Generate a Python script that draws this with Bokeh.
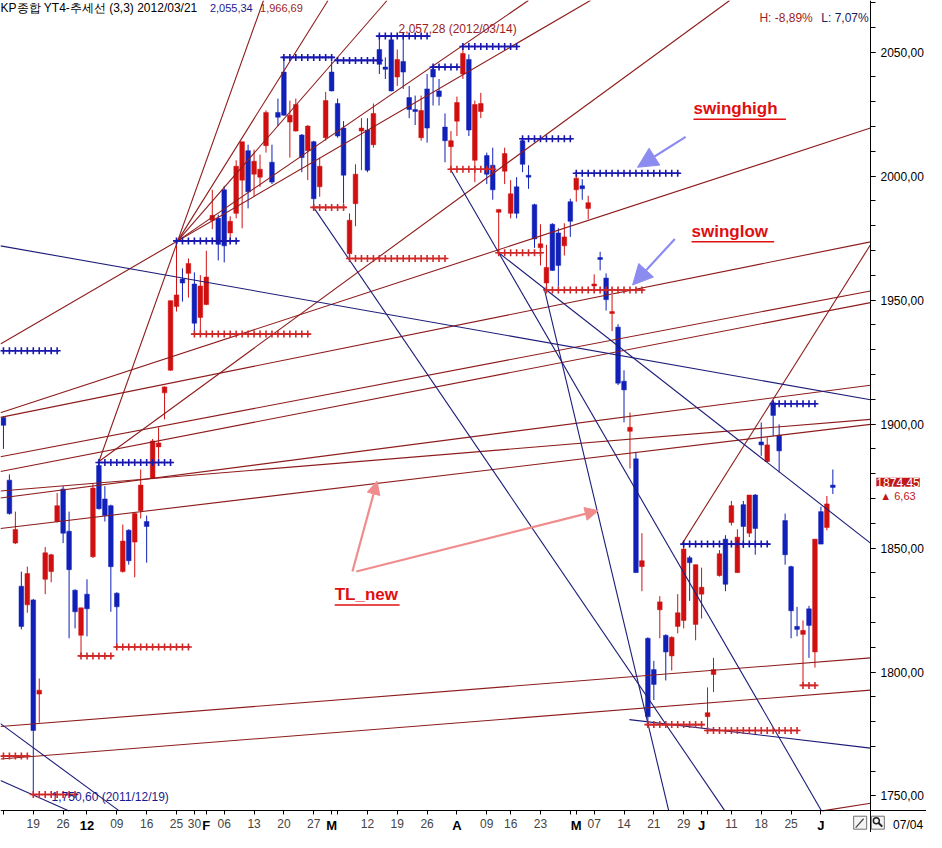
import numpy as np
from bokeh.plotting import figure
from bokeh.models import (Range1d, FixedTicker, CustomJSTickFormatter, Label, LinearAxis,
                          Arrow, NormalHead, ColumnDataSource)
from bokeh.embed import file_html
from bokeh.resources import INLINE

# ---------------- data (daily KOSPI candles, 2011-12-12 .. 2012-07-04, trading-day index) ----------------
opens = [1902.7, 1877.4, 1852.0, 1834.6, 1827.1, 1829.1, 1791.1, 1837.4, 1840.5, 1860.7,
         1873.8, 1856.8, 1833.0, 1814.8, 1831.4, 1846.5, 1883.3, 1869.8, 1867.1, 1831.8,
         1840.5, 1857.2, 1852.4, 1865.1, 1860.7, 1878.1, 1890.8, 1912.6, 1921.7, 1947.4,
         1958.5, 1960.8, 1956.5, 1943.0, 1948.2, 1982.2, 1983.0, 1994.5, 1977.1, 1985.0,
         1998.4, 2010.3, 2000.8, 1999.6, 2012.3, 2005.6, 2025.7, 2042.0, 2021.8, 2018.2,
         2016.6, 2010.3, 2013.9, 1995.7, 2015.5, 2042.0, 2029.3, 2019.4, 1968.7, 1988.9,
         2018.2, 2018.6, 2012.7, 2051.1, 2044.0, 2055.0, 2040.0, 2046.3, 2031.7, 2026.9,
         2015.5, 2035.2, 2043.1, 2034.4, 2019.8, 2011.9, 2022.2, 2041.2, 2047.1, 2006.4,
         2026.1, 2008.3, 2004.4, 1985.4, 2002.0, 1985.0, 1995.7, 2014.3, 2000.4, 1988.5,
         1971.1, 1956.9, 1980.6, 1977.1, 1971.9, 1989.7, 1994.5, 1996.1, 1987.0, 1955.7,
         1967.2, 1958.9, 1944.6, 1939.1, 1917.3, 1897.1, 1886.0, 1842.5, 1813.6, 1801.0,
         1825.1, 1814.8, 1806.5, 1818.4, 1820.8, 1846.1, 1819.2, 1831.4, 1782.0, 1799.0,
         1838.9, 1853.6, 1860.3, 1840.1, 1867.5, 1856.0, 1871.4, 1892.8, 1884.9, 1908.6,
         1895.5, 1861.1, 1842.5, 1818.4, 1815.2, 1825.5, 1808.1, 1864.7, 1858.3, 1875.4]
highs = [1903.1, 1879.7, 1864.7, 1840.5, 1842.5, 1829.5, 1797.4, 1850.4, 1847.7, 1872.2,
         1875.0, 1864.7, 1833.4, 1825.9, 1837.4, 1875.8, 1884.5, 1875.0, 1867.5, 1832.2,
         1859.5, 1857.6, 1864.3, 1881.7, 1863.1, 1894.0, 1898.7, 1915.2, 1949.8, 1973.9,
         1962.8, 1966.8, 1961.2, 1960.1, 1969.9, 1994.5, 1984.5, 1996.1, 1983.8, 2006.4,
         2013.9, 2012.7, 2010.7, 2008.7, 2026.5, 2012.7, 2031.3, 2047.9, 2030.5, 2031.3,
         2017.0, 2020.6, 2014.3, 2007.5, 2034.0, 2046.3, 2031.3, 2022.2, 1985.0, 2004.8,
         2023.4, 2023.4, 2029.3, 2057.3, 2047.9, 2056.6, 2051.1, 2056.2, 2036.4, 2032.5,
         2032.5, 2041.2, 2044.3, 2039.2, 2025.3, 2018.2, 2032.1, 2052.7, 2049.1, 2030.5,
         2033.6, 2009.5, 2011.5, 1986.6, 2011.5, 1998.4, 1999.6, 2015.5, 2004.4, 1988.9,
         1980.6, 1972.3, 1981.0, 1979.0, 1981.0, 1990.9, 2001.6, 1998.8, 1992.1, 1960.4,
         1969.5, 1960.8, 1952.1, 1940.3, 1921.7, 1904.7, 1888.8, 1856.0, 1814.0, 1804.5,
         1830.6, 1815.2, 1814.4, 1831.4, 1852.0, 1846.9, 1843.3, 1842.1, 1793.8, 1805.7,
         1849.2, 1855.2, 1869.0, 1857.6, 1869.0, 1871.4, 1871.8, 1900.7, 1894.7, 1909.4,
         1899.9, 1863.9, 1842.9, 1826.3, 1820.8, 1826.7, 1853.6, 1866.7, 1871.0, 1881.7]
lows = [1890.0, 1863.5, 1851.6, 1817.2, 1823.9, 1750.6, 1779.6, 1831.4, 1836.2, 1860.3,
        1852.0, 1813.6, 1817.6, 1806.9, 1814.4, 1846.0, 1865.5, 1860.7, 1824.3, 1810.5,
        1840.1, 1843.3, 1838.2, 1861.9, 1844.1, 1877.8, 1886.0, 1901.9, 1921.5, 1945.4,
        1949.4, 1951.0, 1937.1, 1937.1, 1948.0, 1978.6, 1966.0, 1965.2, 1973.1, 1983.0,
        1979.0, 1987.0, 1991.7, 1995.7, 2009.5, 1996.8, 2020.2, 2024.4, 2007.5, 2018.0,
        2001.6, 1998.4, 1987.3, 1991.7, 2014.3, 2034.2, 2015.5, 1988.9, 1966.8, 1979.8,
        2002.4, 2001.6, 2011.5, 2041.2, 2039.2, 2034.2, 2036.4, 2035.2, 2023.4, 2020.6,
        2014.3, 2013.5, 2028.5, 2028.5, 2005.6, 2002.4, 2016.2, 2039.2, 2016.2, 1997.6,
        2023.4, 1996.8, 1990.5, 1968.7, 1996.8, 1983.0, 1983.0, 2001.6, 1994.9, 1971.1,
        1964.0, 1954.1, 1961.8, 1955.5, 1968.0, 1975.5, 1989.7, 1990.5, 1982.6, 1954.1,
        1962.0, 1945.8, 1937.5, 1915.7, 1900.7, 1882.1, 1840.1, 1832.6, 1778.8, 1788.7,
        1813.6, 1796.6, 1800.6, 1815.6, 1817.6, 1828.7, 1812.8, 1821.6, 1776.0, 1791.9,
        1838.5, 1832.6, 1859.1, 1840.0, 1850.0, 1854.4, 1847.3, 1887.2, 1884.7, 1895.1,
        1880.5, 1843.3, 1813.6, 1814.4, 1794.6, 1805.7, 1801.8, 1851.6, 1857.2, 1871.8]
closes = [1899.5, 1863.9, 1857.5, 1818.4, 1839.7, 1776.4, 1792.7, 1848.1, 1847.3, 1867.1,
          1856.0, 1841.3, 1824.3, 1825.9, 1825.5, 1874.2, 1865.9, 1863.1, 1842.5, 1826.3,
          1852.8, 1844.9, 1863.9, 1875.4, 1858.7, 1893.2, 1892.4, 1915.0, 1949.8, 1952.1,
          1956.9, 1964.8, 1940.7, 1955.7, 1959.3, 1984.2, 1972.5, 1971.9, 1981.8, 2004.0,
          2013.9, 1993.7, 2006.0, 2002.8, 2025.7, 1997.6, 2023.8, 2024.6, 2024.6, 2028.9,
          2007.5, 2020.2, 1990.9, 2004.0, 2030.5, 2034.4, 2016.2, 2000.4, 1982.2, 2000.8,
          2019.4, 2002.4, 2025.3, 2045.1, 2043.1, 2034.4, 2047.1, 2042.0, 2026.9, 2026.1,
          2026.5, 2019.4, 2040.0, 2032.1, 2014.3, 2014.3, 2029.7, 2049.5, 2018.6, 2028.9,
          2029.3, 2000.8, 1994.5, 1986.6, 2009.1, 1992.9, 1985.0, 2004.8, 1999.6, 1974.7,
          1972.7, 1963.2, 1962.0, 1964.0, 1975.5, 1981.8, 1999.2, 1994.9, 1989.3, 1956.5,
          1966.4, 1950.2, 1945.4, 1916.5, 1913.8, 1898.7, 1840.1, 1844.9, 1782.0, 1795.0,
          1828.3, 1808.1, 1814.0, 1823.9, 1849.6, 1844.1, 1843.3, 1834.2, 1783.6, 1801.0,
          1847.7, 1835.4, 1867.1, 1854.4, 1858.7, 1871.4, 1857.9, 1891.6, 1891.6, 1903.5,
          1889.2, 1847.3, 1824.7, 1817.2, 1816.8, 1818.8, 1853.6, 1851.6, 1867.8, 1874.45]

# x-axis ticks (trading-day index) and their labels; bold = month / year markers
tick_pos = [0, 5, 10, 14, 19, 24, 29, 32, 34, 37, 42, 47, 52, 55, 56, 61, 66, 71, 76,
            81, 85, 90, 95, 96, 99, 104, 109, 114, 117, 118, 122, 127, 132, 137]
tick_txt = ["", "19", "26", "12", "09", "16", "25", "30", "F", "06", "13", "20", "27", "M", "",
            "12", "19", "26", "A", "09", "16", "23", "", "M", "07", "14", "21", "29", "J", "",
            "11", "18", "25", "J"]
tick_bold = [False, False, False, True, False, False, False, False, True, False, False, False, False,
             True, False, False, False, False, True, False, False, False, False, True, False, False,
             False, False, True, False, False, False, False, True]

# swing highs (blue "+" rows): start index, end index, level
sh_start = [0, 16, 29, 47, 56, 63, 72, 77, 87, 96, 114, 129]
sh_end = [9, 28, 39, 55, 63, 71, 76, 86, 95, 113, 128, 136]
sh_level = [1929.6, 1884.5, 1973.9, 2047.9, 2046.7, 2056.5, 2044.0, 2052.3, 2015.1, 2001.2, 1851.6, 1908.2]
# swing lows (red "+" rows)
sl_start = [0, 5, 13, 19, 32, 52, 58, 75, 83, 91, 108, 118, 134]
sl_end = [4, 12, 18, 31, 51, 57, 74, 82, 90, 107, 117, 133, 136]
sl_level = [1766.1, 1750.6, 1806.5, 1810.1, 1936.3, 1987.4, 1966.8, 2002.8, 1969.1, 1954.1, 1778.8, 1776.4, 1794.6]

# trend lines: two anchor points (index, price); 'start' = line begins at first anchor
nv_i1 = [-0.5, -0.5, -0.5, 104.9, 52.1, 75.0, 83.0, 90.6]
nv_p1 = [1779.2, 1756.3, 1971.9, 1780.8, 1987.0, 2002.4, 1969.1, 1954.9]
nv_i2 = [19.4, 11.0, 145.3, 145.3, 120.9, 137.1, 145.3, 111.5]
nv_p2 = [1744.0, 1744.0, 1909.8, 1769.3, 1744.0, 1744.0, 1852.0, 1744.0]
nv_start = [False, False, False, True, True, True, True, True]

rd_i1 = [-0.5, 16.0, -0.5, -0.5, -0.5, -0.5, -0.5, -0.5, -0.5, -0.5, 114.8, 16.0, 29.2, 29.2, 29.2, 29.2, 113.7]
rd_p1 = [1904.6, 1884.9, 1902.7, 1886.8, 1880.9, 1870.2, 1857.9, 1873.0, 1778.0, 1764.9, 1735.3, 1884.9,
         1973.9, 1973.9, 1973.9, 1973.9, 1851.6]
rd_i2 = [145.3, 70.4, 145.3, 145.3, 145.3, 145.3, 145.3, 145.3, 145.3, 145.3, 145.3, 29.2, 54.4, 64.3, 98.4, 88.0, 145.3]
rd_p2 = [2019.4, 1980.6, 1973.5, 1953.7, 1949.0, 1915.7, 1899.9, 1901.9, 1805.7, 1792.7, 1747.1, 1973.9,
         2070.9, 2070.9, 2070.9, 2070.9, 1972.3]
rd_start = [False, True, False, False, False, False, False, False, False, False, False, True,
            True, True, False, True, True]

# ---------------- figure geometry ----------------
W, H = 926, 832            # canvas; the frame covers it entirely
REF_W, REF_H = 942, 848    # reference picture size used for placement


def RX(x):   # reference pixel -> trading-day index
    return (x - 3) / 6.07


def RY(y):   # reference pixel -> price
    return 2070.855 - 0.39573 * y


AX_X = RX(885)     # location of the price axis (index units)
AX_Y = RY(826)     # location of the date axis (price units)
PX0, PY1 = RX(0), RY(0)

RED = "#D01010"
BLUE = "#1020B8"
TLRED = "#8E1C1C"
TLBLUE = "#1C1C78"
FONT = "Liberation Sans"

p = figure(width=W, height=H, x_range=Range1d(RX(0), RX(REF_W)), y_range=Range1d(RY(REF_H), RY(0)),
           output_backend="svg", toolbar_location=None, x_axis_location=None, y_axis_location=None,
           min_border=0, min_border_left=0, min_border_right=0, min_border_top=0, min_border_bottom=0,
           background_fill_color="white", border_fill_color="white")
p.outline_line_color = None
p.xgrid.visible = False
p.ygrid.visible = False

# price axis (right of the candles)
ya = LinearAxis(fixed_location=AX_X,
                ticker=FixedTicker(ticks=list(range(1750, 2051, 50)), minor_ticks=list(range(1750, 2071, 10))),
                formatter=CustomJSTickFormatter(code="return tick.toFixed(2).replace('.', ',');"))
ya.major_tick_in = 0
ya.major_tick_out = 5
ya.minor_tick_in = 0
ya.minor_tick_out = 5
ya.major_label_standoff = 5
ya.major_label_text_font = FONT
ya.major_label_text_font_size = "12px"
ya.major_label_text_color = "black"
ya.axis_line_color = "black"
p.add_layout(ya, "right")

# date axis
xa = LinearAxis(fixed_location=AX_Y, ticker=FixedTicker(ticks=tick_pos, minor_ticks=[]))
xa.major_label_overrides = {t: ("" if b else s) for t, s, b in zip(tick_pos, tick_txt, tick_bold)}
xa.major_tick_in = 0
xa.major_tick_out = 4
xa.minor_tick_out = 0
xa.major_label_standoff = 4
xa.major_label_text_font = FONT
xa.major_label_text_font_size = "12px"
xa.axis_line_color = "black"
p.add_layout(xa, "below")

for t, s, b in zip(tick_pos, tick_txt, tick_bold):
    if b:
        p.add_layout(Label(x=t, y=RY(840.5), text=s, text_align="center", text_baseline="middle",
                           text_font=FONT, text_font_size="13px", text_font_style="bold", text_color="black"))

# ---------------- candles ----------------
o = np.array(opens); h = np.array(highs); l = np.array(lows); c = np.array(closes)
idx = np.arange(len(o))
bot = np.minimum(o, c)
top = np.maximum(np.maximum(o, c), bot + 0.7)
col = [RED if cc >= oo else BLUE for oo, cc in zip(o, c)]
src = ColumnDataSource(dict(x=idx, hi=h, lo=l, top=top, bot=bot, col=col))
p.segment(x0="x", y0="lo", x1="x", y1="hi", line_color="col", line_width=1, source=src)
p.vbar(x="x", top="top", bottom="bot", width=0.78, fill_color="col", line_color="col", line_width=0.5, source=src)


# ---------------- trend lines (clipped to the plotting area) ----------------
def clip(x0, y0, x1, y1, xmin, xmax, ymin, ymax):
    dx, dy = x1 - x0, y1 - y0
    t0, t1 = 0.0, 1.0
    for pp, qq in ((-dx, x0 - xmin), (dx, xmax - x0), (-dy, y0 - ymin), (dy, ymax - y0)):
        if pp == 0:
            if qq < 0:
                return None
        else:
            r = qq / pp
            if pp < 0:
                t0 = max(t0, r)
            else:
                t1 = min(t1, r)
    if t0 > t1:
        return None
    return x0 + t0 * dx, y0 + t0 * dy, x0 + t1 * dx, y0 + t1 * dy


def draw_lines(i1s, p1s, i2s, p2s, starts, color):
    segs = []
    for i1, p1, i2, p2, st in zip(i1s, p1s, i2s, p2s, starts):
        m = (p2 - p1) / (i2 - i1)
        xa_ = i1 if st else -10.0
        xb_ = 200.0
        s = clip(xa_, p1 + m * (xa_ - i1), xb_, p1 + m * (xb_ - i1), PX0, AX_X, AX_Y, PY1)
        if s is not None:
            segs.append(s)
    p.segment(x0=[s[0] for s in segs], y0=[s[1] for s in segs], x1=[s[2] for s in segs],
              y1=[s[3] for s in segs], line_color=color, line_width=1.1)


draw_lines(rd_i1, rd_p1, rd_i2, rd_p2, rd_start, TLRED)
draw_lines(nv_i1, nv_p1, nv_i2, nv_p2, nv_start, TLBLUE)


# ---------------- swing markers ----------------
def swing_rows(starts, ends, levels, color):
    xs, ys = [], []
    for s, e, lv in zip(starts, ends, levels):
        for k in range(s, e + 1):
            xs.append(k); ys.append(lv)
    p.segment(x0=[max(s - 0.3, PX0) for s in starts], y0=levels, x1=[e + 0.3 for e in ends], y1=levels,
              line_color=color, line_width=1.6)
    p.scatter(xs, ys, marker="cross", size=7, line_color=color, line_width=1.6)


swing_rows(sh_start, sh_end, sh_level, "#1818B0")
swing_rows(sl_start, sl_end, sl_level, "#D02828")


# ---------------- texts ----------------
def lab(x, y, text, color="black", size="12px", bold=False, font=FONT, align="left", **kw):
    p.add_layout(Label(x=RX(x), y=RY(y), text=text, text_color=color, text_font_size=size,
                       text_font=font, text_font_style="bold" if bold else "normal",
                       text_align=align, text_baseline="middle", **kw))


lab(0, 8, "KP종합 YT4-추세선  (3,3) 2012/03/21", size="12px")
lab(213, 8, "2,055,34", color="#1A1A8C", size="11px")
lab(264, 8, "1,966,69", color="#9A1E1E", size="11px")
lab(772, 18, "H: -8,89%", color="#9A1E1E", size="12px")
lab(835, 18, "L: 7,07%", color="#1A1A5C", size="12px")
lab(405, 29, "2,057,28 (2012/03/14)", color="#9A1E1E", size="12px")
lab(52, 812, "1,750,60 (2011/12/19)", color="#1A1A8C", size="12px")

lab(705, 110, "swinghigh", color="#E01010", size="17px", bold=True)
lab(703, 235, "swinglow", color="#E01010", size="17px", bold=True)
lab(340, 605, "TL_new", color="#E01010", size="17px", bold=True)
p.segment(x0=[RX(705), RX(703), RX(340)], y0=[RY(121), RY(246), RY(616)],
          x1=[RX(799), RX(787), RX(406)], y1=[RY(121), RY(246), RY(616)],
          line_color="#E01010", line_width=1.5)

# arrows
ab = "#8C8CF0"
ap = "#F08C8C"
for (xs, ys, xe, ye, colr, sz) in [(697, 139, 648, 170, ab, 20), (686, 243, 643, 290, ab, 20),
                                   (358, 582, 383, 490, ap, 13), (362, 582, 608, 520, ap, 13)]:
    p.add_layout(Arrow(x_start=RX(xs), y_start=RY(ys), x_end=RX(xe), y_end=RY(ye),
                       line_color=colr, line_width=2.2,
                       end=NormalHead(size=sz, fill_color=colr, line_color=colr)))

# last price, change, date stamp
lab(891, 491, "1874,45", color="white", size="12px",
    background_fill_color="#C01818", background_fill_alpha=1.0)
lab(895, 505, "▲  6,63", color="#C01818", size="11px")
lab(908, 840, "07/04", color="black", size="12px")

# two small tool buttons at the lower right
p.rect(x=[RX(874.5), RX(892.5)], y=[RY(838), RY(838)], width=13, height=13,
       width_units="screen", height_units="screen", fill_color="#F4F4F4", line_color="#707070")
p.segment(x0=[RX(870)], y0=[RY(843)], x1=[RX(878)], y1=[RY(834)], line_color="#404040", line_width=1.2)
p.circle(x=[RX(891)], y=[RY(836)], radius=3, radius_units="screen", fill_color=None, line_color="#202020",
         line_width=1.5)
p.segment(x0=[RX(893)], y0=[RY(838)], x1=[RX(897)], y1=[RY(842)], line_color="#202020", line_width=2)

open("out.html", "w").write(file_html(p, INLINE))
